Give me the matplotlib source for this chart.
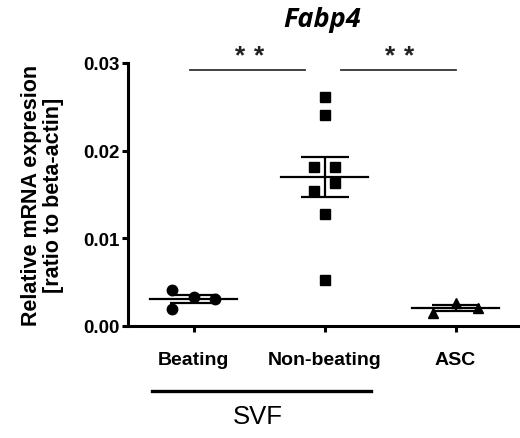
import matplotlib
matplotlib.use('Agg')
import numpy as np
from matplotlib import pyplot as plt
from matplotlib import transforms

plt.rcParams['font.family'] = ['Liberation Sans', 'DejaVu Sans']

groups = ['Beating', 'Non-beating', 'ASC']
beating = [0.0041, 0.0033, 0.0031, 0.0019]
beating_dx = [-0.165, 0.0, 0.165, -0.165]
non_beating = [0.0261, 0.0241, 0.0181, 0.0181, 0.0163, 0.0154, 0.0128, 0.0052]
non_beating_dx = [0.0, 0.0, -0.08, 0.08, 0.08, -0.08, 0.0, 0.0]
asc = [0.0015, 0.0026, 0.0021]
asc_dx = [-0.168, 0.0, 0.168]
markers = ['o', 's', '^']

fig = plt.figure(figsize=(5.2, 4.39), dpi=100)
ax = fig.add_axes([128 / 520, 112 / 439, 392 / 520, 263 / 439])

for i, (vals, dx, m) in enumerate(zip([beating, non_beating, asc],
                                      [beating_dx, non_beating_dx, asc_dx], markers)):
    vals = np.array(vals)
    xs = i + np.array(dx)
    ax.plot(xs, vals, m, color='black', markersize=7.5, zorder=3, clip_on=False)
    mean = vals.mean()
    sem = vals.std(ddof=1) / np.sqrt(len(vals))
    ax.plot([i - 0.33, i + 0.33], [mean, mean], color='black', lw=1.6, zorder=4)
    ax.errorbar(i, mean, yerr=sem, color='black', lw=1.6, capsize=17, capthick=1.6, zorder=4)

ax.set_xlim(-0.5, -0.5 + 392 / 131)
ax.set_ylim(0, 0.03)
ax.set_yticks([0, 0.01, 0.02, 0.03])
ax.set_yticklabels(['0.00', '0.01', '0.02', '0.03'])
ax.set_xticks(range(3))
ax.set_xticklabels(groups)
for lab in ax.get_xticklabels() + ax.get_yticklabels():
    lab.set_fontweight('bold')
ax.tick_params(axis='y', labelsize=13.5, width=2.2, length=4, pad=2)
ax.tick_params(axis='x', labelsize=14, width=2.2, length=4, pad=14)
for s in ['top', 'right']:
    ax.spines[s].set_visible(False)
for s in ['left', 'bottom']:
    ax.spines[s].set_linewidth(2.2)

ax.set_ylabel('Relative mRNA expresion\n[ratio to beta-actin]', fontsize=15.5,
              fontweight='bold', labelpad=14, linespacing=1.05)

# significance bars
ax.plot([-0.03, 0.853], [0.0292, 0.0292], color='#333333', lw=1.3, clip_on=False)
ax.plot([1.128, 2.005], [0.0292, 0.0292], color='#333333', lw=1.3, clip_on=False)
for xc in [0.427, 1.573]:
    for d in [-0.07, 0.07]:
        ax.text(xc + d, 0.0295, '*', ha='center', va='bottom', fontsize=19,
                fontweight='bold', color='#222222', clip_on=False)

# SVF bracket
trans = transforms.blended_transform_factory(ax.transData, ax.transAxes)
ax.plot([-0.313, 1.356], [-0.248, -0.248], color='black', lw=2.4, transform=trans, clip_on=False)
ax.text(0.489, -0.341, 'SVF', ha='center', va='center', fontsize=18.5, transform=trans)

ax.text(0.985, 1.167, 'Fabp4', ha='center', va='center', fontsize=19.5,
        fontweight='bold', fontstyle='italic', family=['Open Sans', 'DejaVu Sans'], transform=trans)

fig.savefig('out.png', dpi=100)
